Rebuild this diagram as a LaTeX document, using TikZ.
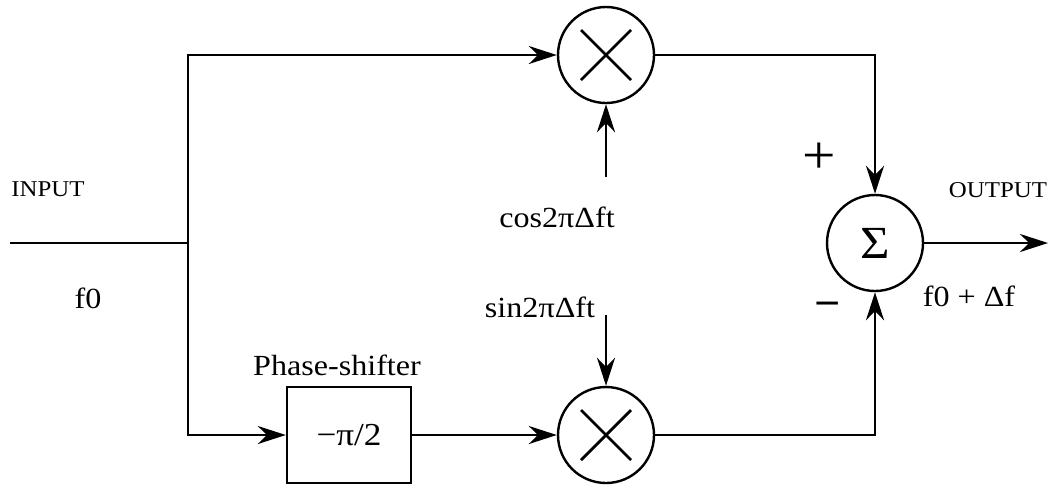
\documentclass[tikz,border=0pt]{standalone}
\usepackage{fontspec}
\setmainfont{Liberation Serif}[FakeStretch=1.1]
\usetikzlibrary{arrows.meta,positioning}

\begin{document}
\begin{tikzpicture}[x=0.5pt,y=-0.5pt,line width=1.4pt,
    mixer/.style={circle,draw,line width=1.2pt,minimum size=48pt,inner sep=0pt},
    block/.style={rectangle,draw,line width=1.2pt,minimum width=62pt,minimum height=48pt,font=\fontsize{16}{18}\selectfont},
    lbl/.style={font=\fontsize{14.6}{17}\selectfont,inner sep=0pt},
    tag/.style={font=\fontsize{11.3}{13}\selectfont,inner sep=0pt},
    arrow/.style={-{Stealth[length=14pt,width=9pt]}}]
    \useasboundingbox (0,0) rectangle (1054,484);
    % mixers, summer and phase shifter
    \node[mixer] (mixtop) at (606,55) {};
    \node[mixer] (mixbot) at (606,435) {};
    \node[mixer,font=\fontsize{23}{23}\selectfont] (sum) at (875,243) {Σ};
    \node[block] (shifter) at (349,435) {−π/2};
    \node[lbl,above=4.5pt of shifter,xshift=-6pt] (shiftlbl) {Phase-shifter};
    \coordinate (in) at (10,243);
    \coordinate (branch) at (188,243);
    \coordinate (out) at (1048,243);
    \coordinate (cosin) at (606,177);
    \coordinate (sinin) at (606,315);
    % labels
    \node[tag] (inlbl) at (48,189) {INPUT};
    \node[lbl] (f0lbl) at (88,298) {f0};
    \node[tag] (outlbl) at (998,190) {OUTPUT};
    \node[lbl] (flbl) at (969,296) {f0 + Δf};
    \node[lbl] (coslbl) at (557,217) {cos2πΔft};
    \node[lbl] (sinlbl) at (540,307) {sin2πΔft};
    \node[font=\fontsize{27}{27}\selectfont] (plus) at (819,158) {+};
    \node[font=\fontsize{21}{21}\selectfont\bfseries] (minus) at (828,310) {−};
    % signal paths
    \draw (in) -- (branch);
    \draw[arrow] (branch) |- (mixtop);
    \draw[arrow] (branch) |- (shifter);
    \draw[arrow] (shifter) -- (mixbot);
    \draw[arrow] (cosin) -- (mixtop);
    \draw[arrow] (sinin) -- (mixbot);
    \draw[arrow] (mixtop) -| (sum);
    \draw[arrow] (mixbot) -| (sum);
    \draw[arrow] (sum) -- (out);
    \foreach \m in {mixtop,mixbot}
        \draw (\m.center) +(-25,-25) -- +(25,25) (\m.center) +(-25,25) -- +(25,-25);
\end{tikzpicture}
\end{document}
